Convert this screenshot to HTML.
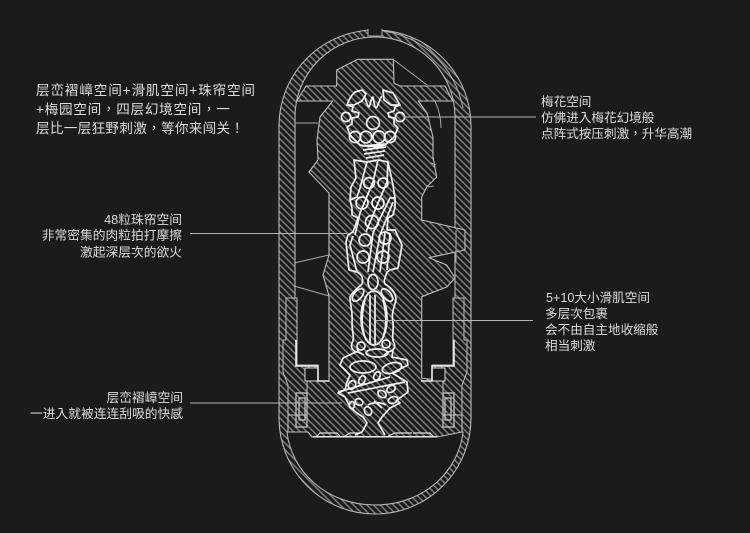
<!DOCTYPE html>
<html><head><meta charset="utf-8"><style>
html,body{margin:0;padding:0;background:#1a1a1a}
svg{display:block}
text{font-family:"Liberation Sans","Noto Sans CJK TC",sans-serif;fill:#dcdcdc}
</style></head><body>
<svg width="750" height="533" viewBox="0 0 750 533" xmlns="http://www.w3.org/2000/svg">
<defs>
<pattern id="h" width="4.7" height="4.7" patternUnits="userSpaceOnUse" patternTransform="rotate(-45)"><rect width="4.7" height="4.7" fill="#1a1a1a"/><line x1="1" y1="0" x2="1" y2="4.7" stroke="#7e7e7e" stroke-width="1.5"/></pattern>
<pattern id="bg" width="3" height="3" patternUnits="userSpaceOnUse" patternTransform="rotate(-45)"><rect width="3" height="3" fill="#1a1a1a"/><line x1="1" y1="0" x2="1" y2="3" stroke="#1d1d1d" stroke-width="1"/></pattern>
</defs>
<rect width="750" height="533" fill="url(#bg)"/>

<!-- shell -->
<path fill-rule="evenodd" fill="url(#h)" stroke="#b8b8b8" stroke-width="1.1" d="M279 126A96 96 0 0 1 471 126V418A96 96 0 0 1 279 418Z M295 117A80 80 0 0 1 455 117V432H463C459 470 425 505 375 505C325 505 291 470 287 432H295Z"/>
<rect x="368" y="28" width="14" height="8" fill="#1a1a1a"/>
<path d="M368 29V36H382V29" fill="none" stroke="#aaa"/>
<path d="M383 31C425 37 455 68 463 108" fill="none" stroke="#b0b0b0"/>

<!-- central body -->
<path fill="url(#h)" stroke="#c0c0c0" stroke-width="1.1" stroke-linejoin="round" d="M357.7 59.3L393.3 59.3L394 83.3L400 86L445 86L452.7 101L418.3 101L427 113L433 137L433 157L436.7 177L426.7 187L421.7 197L421.7 220L465 230L465 250L429 257.7L446.7 265L455 278L446.7 287L421.7 296.7L421.7 378L443 381L443 415L462 415V432L437 437L312 437L308 432L288 432V415L307 415V381L329 381L329 296L323 275L329 255L329 193L309 172L318 160L317 140L320 117L332.7 101L296.7 101L306 86L336.7 86L336.7 70Z"/>
<path d="M394 60L427 85M435 101C440 112 441 120 441 128M295 123H318M431 163L436 165M427 187L434 186M294 263L329 255M294 286L329 296M456 230V262" fill="none" stroke="#a8a8a8"/>

<!-- lower side retainers -->
<path fill="url(#h)" stroke="#c0c0c0" d="M286 298H297V365H318V381H307V415H288V385L283 372V340H286Z"/>
<path fill="url(#h)" stroke="#c0c0c0" d="M464 298H453V365H432V381H443V415H462V385L467 372V340H464Z"/>
<path d="M305 368H318V381H305Z M445 368H432V381H445Z" fill="#1a1a1a" stroke="#ddd"/>
<path d="M296 340V366H318V381H329M454 340V366H432V381H421" fill="none" stroke="#eee" stroke-width="1.6"/>
<path d="M296 393H307V427H296ZM299 398H305V420H299ZM454 393H443V427H454ZM451 398H445V420H451Z" fill="none" stroke="#ccc" stroke-width="1.2"/>
<path d="M316 437L320 433H337L340 436M345 436L350 433H360M388 436L395 433H412M413 433L430 433L433 436" fill="none" stroke="#ddd" stroke-width="1.2"/>
<rect x="313" y="436" width="124" height="1.5" fill="#e8e8e8"/>

<!-- flower -->
<g fill="none" stroke="#f2f2f2" stroke-width="1.7" stroke-linejoin="round">
<path d="M347 105C349 99 351 96 355 92L362 90L366 94L362 101L354 105ZM383 90L393 93L400 105L391 105L384 100Z"/>
<path d="M347 105L353 107L352 111L359 113L358 117L352 118L352 124L347 127L350 135M400 105L395 107L394 111L388 113L389 117L394 118L394 124L398 128L394 137"/>
<path d="M364 96C366 100 367 106 369 107C371 103 371 98 373 97C374 103 375 110 377 107C379 103 380 98 382 96"/>
<circle cx="346" cy="117" r="4.6"/><circle cx="400" cy="117" r="4.6"/><circle cx="373" cy="123" r="6.4"/>
<circle cx="355" cy="137" r="5.6"/><circle cx="366" cy="137" r="5.8"/><circle cx="379" cy="137" r="6"/><circle cx="390" cy="137" r="5.6"/>
<path d="M350 135L360 145C368 147 378 147 385 145L394 137M362 146L386 144M363 150L386 147M364 154L385 151M366 158L384 155"/>

<!-- bead column -->
<path d="M354 160L367 162L360 188L357 197L350 200L351 187L356 178ZM354 160"/>
<path d="M367 162L378 160M378 160L373 182L360 213L355 235M388 162L387 182L378 203L366 232"/>
<path d="M378 160L388 162L393 185L395 198L390 198L373 233L368 272M393 202L380 235L373 272M395 198L395 207L393 215L388 218L387 230L395 230L402 245L398 268L390 270L387 272"/>
<path d="M350 200L357 197M350 200L352 208L352 215L358 218L353 232L348 235L346 242L349 270L357 272L350 245L353 236"/>
<path d="M385 233L380 272M390 233L387 270"/>
<circle cx="369" cy="183" r="5.4"/><circle cx="383" cy="183" r="5"/>
<circle cx="362" cy="203" r="6"/><circle cx="378" cy="203" r="6"/><circle cx="372" cy="222" r="6.5"/>
<circle cx="365" cy="240" r="6"/><circle cx="385" cy="238" r="6"/><circle cx="363" cy="257" r="6"/><circle cx="383" cy="257" r="6"/>
<ellipse cx="373" cy="282" rx="5" ry="7.5"/>
<ellipse cx="358" cy="295" rx="4" ry="7.5" transform="rotate(40 358 295)"/><ellipse cx="387" cy="295" rx="4" ry="7.5" transform="rotate(-40 387 295)"/>
<path d="M357 272C361 274 364 278 362 284C358 288 352 292 350 297C350 305 353 310 352 323C352 332 355 338 352 343C350 348 354 352 358 352L364 355M387 272C386 276 383 280 385 284C390 287 396 292 396 300C394 308 391 314 393 322C394 332 391 338 394 343C396 348 393 351 388 352L384 355"/>
<ellipse cx="374" cy="318" rx="13" ry="27"/>
<path d="M370 295V344M375 295V344M365 300C361 315 361 328 366 340M383 300C387 315 387 328 382 340"/>
<circle cx="361" cy="346" r="4"/><circle cx="386" cy="344" r="4"/>

<!-- lower organ -->
<path d="M357 347L358 351L343 358L340 365L350 375L347 382L345 390L338 393L345 397L350 407L357 413L363 417L367 423L362 432L355 435M393 350L392 357L407 360L408 365L392 373L407 382L408 392L397 400L400 403L390 408L382 417L378 423L385 435"/>
<ellipse cx="377" cy="353" rx="11" ry="4"/><ellipse cx="363" cy="367" rx="13" ry="6"/><ellipse cx="392" cy="368" rx="10" ry="5" transform="rotate(-15 392 368)"/>
<path d="M338 392L390 377M348 393L405 382"/>
<ellipse cx="352" cy="385" rx="3.5" ry="4.5" transform="rotate(25 352 385)"/><ellipse cx="362" cy="380" rx="3" ry="4.5" transform="rotate(25 362 380)"/><ellipse cx="377" cy="376" rx="3" ry="4.5" transform="rotate(25 377 376)"/>
<ellipse cx="382" cy="394" rx="4.5" ry="3.2" transform="rotate(35 382 394)"/><ellipse cx="391" cy="389" rx="4.5" ry="3.2" transform="rotate(-30 391 389)"/><ellipse cx="393" cy="400" rx="5" ry="3.2" transform="rotate(-20 393 400)"/>
<ellipse cx="359" cy="402" rx="4" ry="3.2" transform="rotate(25 359 402)"/><ellipse cx="368" cy="411" rx="3.5" ry="4.5" transform="rotate(-25 368 411)"/><ellipse cx="352" cy="405" rx="2.5" ry="3.5"/>
<path d="M368 405C373 402 381 402 386 405M374 401L382 408"/>
</g>

<!-- callouts -->
<g stroke="#b5b5b5" stroke-width="1.1">
<line x1="190" y1="233.500" x2="347" y2="233.500"/>
<line x1="404" y1="117" x2="536" y2="117"/>
<line x1="376" y1="320.500" x2="533" y2="320.500"/>
<line x1="190" y1="403" x2="342" y2="403"/>
</g>

<!-- text -->
<g font-size="13.6">
<text x="36" y="95" textLength="219" lengthAdjust="spacing">层峦褶嶂空间+滑肌空间+珠帘空间</text>
<text x="36" y="114" textLength="194" lengthAdjust="spacing">+梅园空间，四层幻境空间，一</text>
<text x="36" y="133" textLength="208" lengthAdjust="spacing">层比一层狂野刺激，等你来闯关！</text>
</g>
<g font-size="12.75">
<text x="182" y="224" text-anchor="end">48粒珠帘空间</text>
<text x="182" y="239.500" text-anchor="end">非常密集的肉粒拍打摩擦</text>
<text x="182" y="256.500" text-anchor="end">激起深层次的欲火</text>
<text x="183" y="402" text-anchor="end">层峦褶嶂空间</text>
<text x="183" y="418" text-anchor="end">一进入就被连连刮吸的快感</text>
</g>
<g font-size="12.6">
<text x="541" y="106">梅花空间</text>
<text x="541" y="122">仿佛进入梅花幻境般</text>
<text x="541" y="138">点阵式按压刺激，升华高潮</text>
<text x="546" y="302">5+10大小滑肌空间</text>
<text x="545" y="318">多层次包裹</text>
<text x="545" y="334">会不由自主地收缩般</text>
<text x="545" y="350">相当刺激</text>
</g>
</svg>
</body></html>
